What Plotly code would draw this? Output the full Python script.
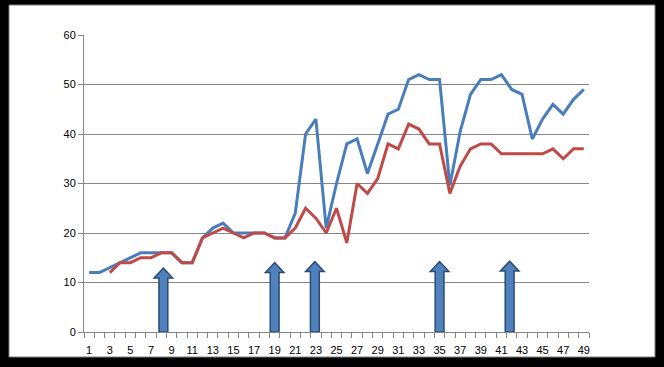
import plotly.graph_objects as go

categories = list(range(1, 50))
blue_values = [12, 12, 13, 14, 15, 16, 16, 16, 16, 14, 14, 19, 21, 22, 20, 20, 20, 20, 19, 19,
               24, 40, 43, 21, 30, 38, 39, 32, 38, 44, 45, 51, 52, 51, 51, 29.6, 40.5, 48, 51, 51,
               52, 49, 48, 39, 43, 46, 44, 47, 49]
red_values = [None, None, 12, 14, 14, 15, 15, 16, 16, 14, 14, 19, 20, 21, 20, 19, 20, 20, 19, 19,
              21, 25, 23, 20, 25, 18, 30, 28, 31, 38, 37, 42, 41, 38, 38, 28, 33.5, 37, 38, 38,
              36, 36, 36, 36, 36, 37, 35, 37, 37]
x_tick_labels = [str(v) for v in range(1, 50, 2)]
y_tick_values = [0, 10, 20, 30, 40, 50, 60]
arrow_x = [8.2, 19, 22.9, 35, 41.8]
arrow_tips = [12.9, 14.0, 14.2, 14.2, 14.3]

fig = go.Figure()
fig.add_trace(go.Scatter(x=categories, y=blue_values, mode="lines",
                         line=dict(color="#4A7EBB", width=3), connectgaps=False))
fig.add_trace(go.Scatter(x=categories, y=red_values, mode="lines",
                         line=dict(color="#BE4B48", width=3), connectgaps=False))

# block arrows
shaft_hw, head_hw, head_h = 0.43, 0.9, 2.0
for ax, tip in zip(arrow_x, arrow_tips):
    base = tip - head_h
    path = (f"M {ax-shaft_hw},0 L {ax-shaft_hw},{base} L {ax-head_hw},{base} L {ax},{tip} "
            f"L {ax+head_hw},{base} L {ax+shaft_hw},{base} L {ax+shaft_hw},0 Z")
    fig.add_shape(type="path", path=path, xref="x", yref="y", layer="above",
                  fillcolor="#4F81BD", line=dict(color="#2C4D75", width=1.5))

# white chart area inside the black frame
fig.add_shape(type="rect", xref="paper", yref="paper",
              x0=(9 - 84) / 505, x1=(655 - 84) / 505,
              y0=(332 - 357) / 297, y1=(332 - 5) / 297,
              fillcolor="white", line=dict(color="#7F7F7F", width=1), layer="below")

fig.update_layout(
    width=664, height=367,
    margin=dict(l=84, r=75, t=35, b=35),
    paper_bgcolor="black", plot_bgcolor="white",
    showlegend=False,
    font=dict(family="Liberation Sans, Arial", size=11, color="black"),
)
fig.update_xaxes(
    range=[0.5, 49.5], tickmode="array",
    tickvals=list(range(1, 50, 2)), ticktext=x_tick_labels,
    ticks="", showgrid=False, zeroline=False, ticklabelstandoff=8,
    showline=True, linecolor="#868686", linewidth=1,
    minor=dict(tickvals=[v + 0.5 for v in range(0, 50)], ticks="outside",
               ticklen=5, tickcolor="#868686", showgrid=False),
    fixedrange=True,
)
fig.update_yaxes(
    range=[0, 60], tickmode="array", tickvals=y_tick_values,
    ticks="outside", ticklen=5, tickcolor="#868686",
    showgrid=True, gridcolor="#868686", gridwidth=1, zeroline=False,
    showline=True, linecolor="#868686", linewidth=1,
    fixedrange=True,
)

fig.write_html("out.html", config={"displayModeBar": False},
               post_script="document.body.style.margin='0px';")
